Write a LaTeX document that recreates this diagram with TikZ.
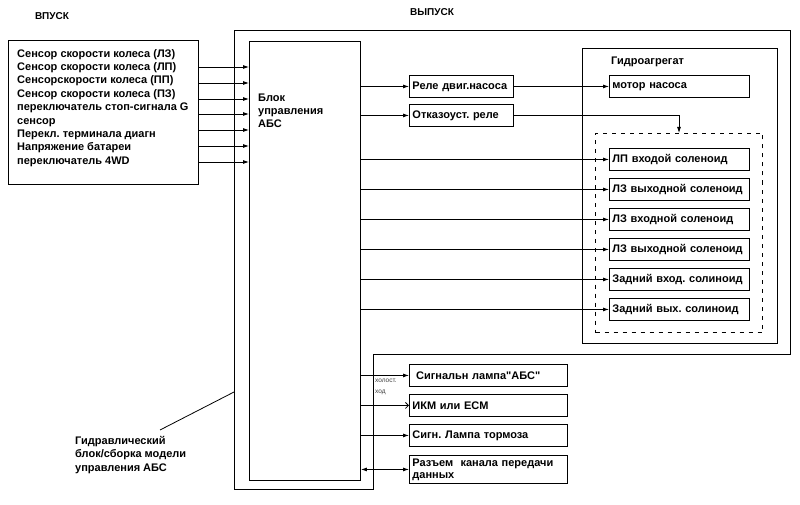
\documentclass[tikz,border=0pt]{standalone}
\usepackage{fontspec}
\setmainfont{Liberation Sans}
\usetikzlibrary{arrows.meta,calc}
\begin{document}
\frenchspacing
\begin{tikzpicture}[x=1pt,y=-1pt,
  every node/.style={font=\fontsize{11}{13.4}\selectfont\bfseries},
  ln/.style={line width=0.9pt},
  frame/.style={draw,line width=0.9pt,anchor=north west,inner sep=0pt},
  box/.style={draw,line width=0.9pt,anchor=north west,inner sep=3pt,align=left,minimum height=22pt},
  txt/.style={anchor=north west,align=left,inner sep=0pt},
  arr/.style={line width=0.8pt,-{Latex[length=6pt,width=4pt]}},
  arropen/.style={line width=0.8pt,-{Straight Barb[length=3pt,width=6pt]}},
  arrboth/.style={line width=0.8pt,{Latex[length=6pt,width=4pt]}-{Latex[length=6pt,width=4pt]}}]
\useasboundingbox (0,0) rectangle (800,505);
\fill[white] (0,0) rectangle (800,505);

% headings
\node[font=\fontsize{10}{11}\selectfont\bfseries] (vpusk) at (52,16) {ВПУСК};
\node[font=\fontsize{10}{11}\selectfont\bfseries] (vypusk) at (432,12) {ВЫПУСК};

% input box
\node[frame,minimum width=190pt,minimum height=144pt] (inp) at (8,40) {};
\node[txt] (inpt) at (17,49) {Сенсор скорости колеса (ЛЗ)\\Сенсор скорости колеса (ЛП)\\Сенсорскорости колеса (ПП)\\Сенсор скорости колеса (ПЗ)\\переключатель стоп-сигнала G\\сенсор\\Перекл. терминала диагн\\Напряжение батареи\\переключатель 4WD};

% outer enclosure
\draw[ln] (234,30) -- (790,30) -- (790,354) -- (373,354) -- (373,489) -- (234,489) -- cycle;

% ABS block
\node[frame,minimum width=111pt,minimum height=439pt] (abs) at (249,41) {};
\node[txt,font=\fontsize{11}{13}\selectfont\bfseries] (abst) at (258,94) {Блок\\управления\\АБС};

% input arrows
\foreach \y [count=\i] in {67,83,99,114,130,146,162}{
  \coordinate (iy\i) at (0,\y);
  \draw[arr] (inp.east |- iy\i) -- (abs.west |- iy\i);
}

% relays
\node[box,text width=98pt] (rele) at (409,75) {Реле двиг.насоса};
\node[box,text width=98pt] (otk) at (409,104) {Отказоуст. реле};

% hydraulic unit
\node[frame,minimum width=195pt,minimum height=295pt] (hyd) at (582,48) {};
\node[txt] (hydt) at (611,57) {Гидроагрегат};
\node[box,text width=134pt] (mot) at (609,75) {мотор насоса};
\node[draw,line width=1pt,dash pattern=on 4pt off 5pt,anchor=north west,inner sep=0pt,minimum width=167pt,minimum height=199pt] (dsh) at (595,133) {};
\node[box,text width=134pt] (s1) at (609,148) {ЛП входой соленоид};
\node[box,text width=134pt] (s2) at (609,178) {ЛЗ выходной соленоид};
\node[box,text width=134pt] (s3) at (609,208) {ЛЗ входной соленоид};
\node[box,text width=134pt] (s4) at (609,238) {ЛЗ выходной соленоид};
\node[box,text width=134pt] (s5) at (609,268) {Задний вход. солиноид};
\node[box,text width=134pt] (s6) at (609,298) {Задний вых. солиноид};

% bottom outputs
\node[box,text width=152pt] (g1) at (409,364) {\ Сигнальн лампа\textquotedbl АБС\textquotedbl};
\node[box,text width=152pt] (g2) at (409,394) {ИКМ или ECM};
\node[box,text width=152pt] (g3) at (409,424) {Сигн. Лампа тормоза};
\node[box,text width=152pt,minimum height=28pt,font=\fontsize{11}{12}\selectfont\bfseries] (g4) at (409,455) {Разъем\ \ канала передачи\\данных};

% connectors
\draw[arr] (abs.east |- rele.west) -- (rele.west);
\draw[arr] (abs.east |- otk.west) -- (otk.west);
\draw[arr] (rele.east) -- (mot.west);
\coordinate (dk) at (679,133);
\draw[arr] (otk.east) -| (dk);
\foreach \s in {s1,s2,s3,s4,s5,s6}{
  \draw[arr] (abs.east |- \s.west) -- (\s.west);
}
\draw[arr] (abs.east |- g1.west) -- (g1.west);
\draw[arropen] (abs.east |- g2.west) -- (g2.west);
\draw[arr] (abs.east |- g3.west) -- (g3.west);
\draw[arrboth] (abs.east |- g4.west) -- (g4.west);
\node[txt,font=\fontsize{6.5}{11}\selectfont,text=black!75] (idle) at (375,379) {холост.\\ход};

% leader label
\node[txt,font=\fontsize{11}{13.5}\selectfont\bfseries] (hydl) at (75,436) {Гидравлический\\блок/сборка модели\\управления АБС};
\coordinate (la) at (160,430);
\coordinate (lb) at (234,392);
\draw[line width=0.8pt] (la) -- (lb);
\end{tikzpicture}
\end{document}
